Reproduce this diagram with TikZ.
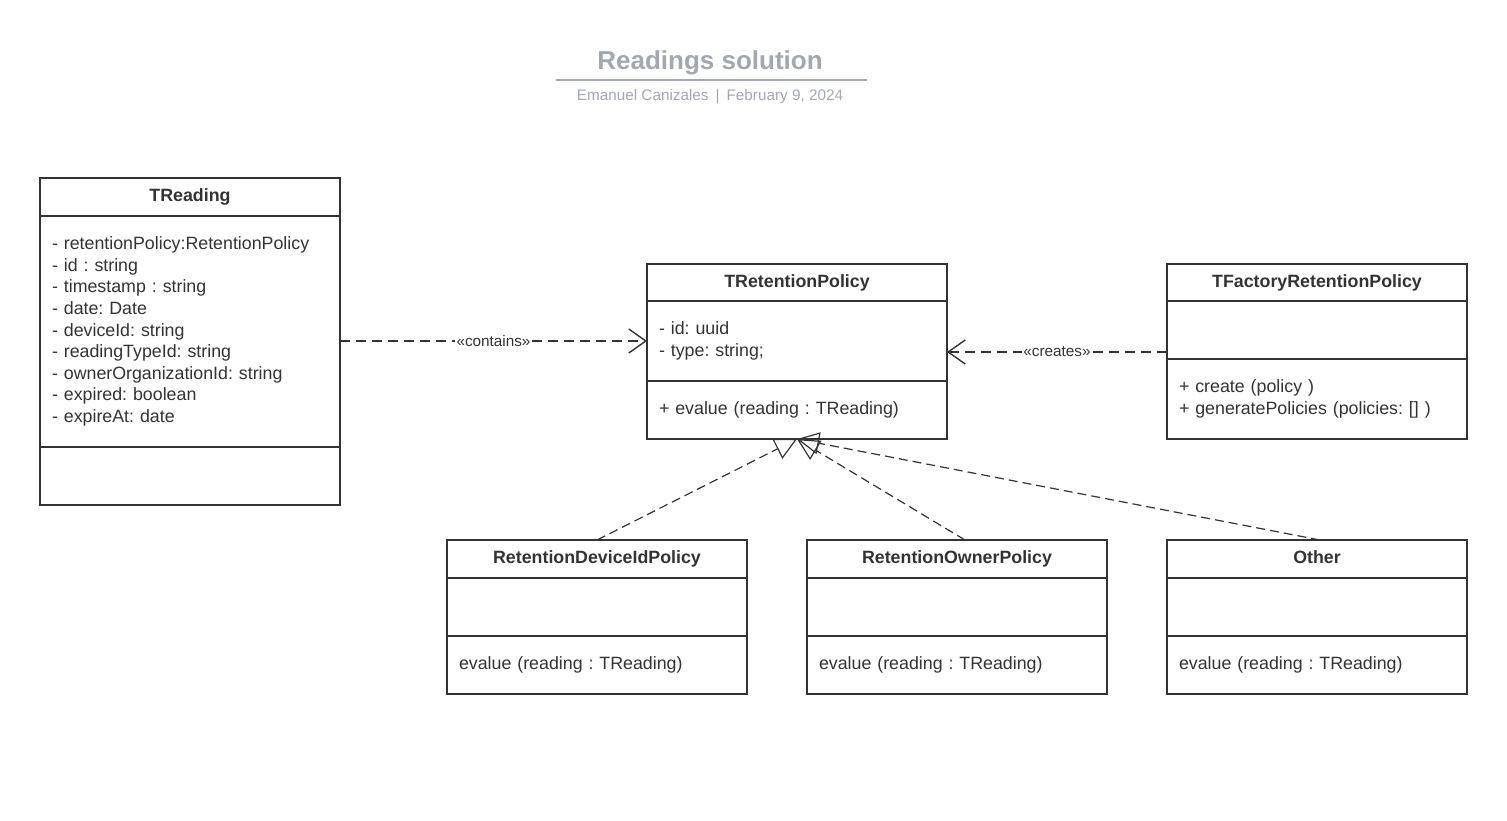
\documentclass[tikz,border=0pt]{standalone}
\usepackage{fontspec}
\setmainfont{Liberation Sans}
\frenchspacing
\usetikzlibrary{arrows.meta,calc}
\definecolor{ink}{HTML}{333333}
\definecolor{titlegray}{HTML}{A3A8B0}
\begin{document}
\begin{tikzpicture}[x=1pt,y=-1pt,
  box/.style={draw=ink, line width=2pt, minimum width=300pt, anchor=north west, inner sep=0pt, outer sep=0pt, text=ink},
  head/.style={box, font=\bfseries\fontsize{17.8}{21}\selectfont, text height=13pt, text depth=4pt},
  comp/.style={box, font=\fontsize{17.8}{21.6}\selectfont, text width=276pt, align=left},
  dep/.style={draw=ink, line width=2pt, dash pattern=on 10pt off 6pt, -{Straight Barb[length=17pt,width=24pt,line width=1.4pt]}},
  inh/.style={draw=ink, line width=1.2pt, dash pattern=on 9pt off 5pt, -{Triangle[open,length=22pt,width=22pt,line width=1.2pt]}},
  lbl/.style={fill=white, text=ink, inner sep=1.5pt, font=\fontsize{15.3}{18}\selectfont}
]
\useasboundingbox (0,0) rectangle (1507,820);
% title
\node[font=\bfseries\fontsize{26}{30}\selectfont, text=titlegray, inner sep=0pt] (title) at (710,63) {Readings solution};
\draw[titlegray, line width=2pt] (556,80) -- (867,80);
\node[font=\fontsize{15.3}{18}\selectfont, text=titlegray, inner sep=0pt] (sub) at (710,97) {Emanuel Canizales\hspace{7pt}|\hspace{7pt}February 9, 2024};

% TReading
\node[head, minimum height=38pt] (tr-h) at (40,178) {TReading};
\node[comp, minimum height=231pt] (tr-a) at (40,216) {- retentionPolicy:RetentionPolicy\\- id : string\\- timestamp : string\\- date: Date\\- deviceId: string\\- readingTypeId: string\\- ownerOrganizationId: string\\- expired: boolean\\- expireAt: date\\[3pt]};
\node[comp, minimum height=58pt] (tr-m) at (40,447) {};

% TRetentionPolicy
\node[head, minimum height=37pt] (rp-h) at (647,264) {TRetentionPolicy};
\node[comp, minimum height=80pt] (rp-a) at (647,301) {- id: uuid\\- type: string;\\[3pt]};
\node[comp, minimum height=58pt] (rp-m) at (647,381) {+ evalue (reading : TReading)\\[3pt]};

% TFactoryRetentionPolicy
\node[head, minimum height=37pt] (fr-h) at (1167,264) {TFactoryRetentionPolicy};
\node[comp, minimum height=58pt] (fr-a) at (1167,301) {};
\node[comp, minimum height=80pt] (fr-m) at (1167,359) {+ create (policy )\\+ generatePolicies (policies: [] )\\[3pt]};

% RetentionDeviceIdPolicy
\node[head, minimum height=38pt] (rd-h) at (447,540) {RetentionDeviceIdPolicy};
\node[comp, minimum height=58pt] (rd-a) at (447,578) {};
\node[comp, minimum height=58pt] (rd-m) at (447,636) {evalue (reading : TReading)\\[3pt]};

% RetentionOwnerPolicy
\node[head, minimum height=38pt] (ro-h) at (807,540) {RetentionOwnerPolicy};
\node[comp, minimum height=58pt] (ro-a) at (807,578) {};
\node[comp, minimum height=58pt] (ro-m) at (807,636) {evalue (reading : TReading)\\[3pt]};

% Other
\node[head, minimum height=38pt] (ot-h) at (1167,540) {Other};
\node[comp, minimum height=58pt] (ot-a) at (1167,578) {};
\node[comp, minimum height=58pt] (ot-m) at (1167,636) {evalue (reading : TReading)\\[3pt]};

% dependencies
\draw[dep] (rp-a.west -| tr-a.east) -- node[lbl] {«contains»} (rp-a.west);
\coordinate (crs) at (1167,352);
\draw[dep] (crs) -- node[lbl] {«creates»} (crs -| rp-a.east);

% generalizations
\draw[inh] (rd-h.north) -- (rp-m.south);
\draw[inh] ($(ro-h.north)+(8,0)$) -- (rp-m.south);
\draw[inh] ($(ot-h.north)+(3,0)$) -- (rp-m.south);
\end{tikzpicture}
\end{document}
